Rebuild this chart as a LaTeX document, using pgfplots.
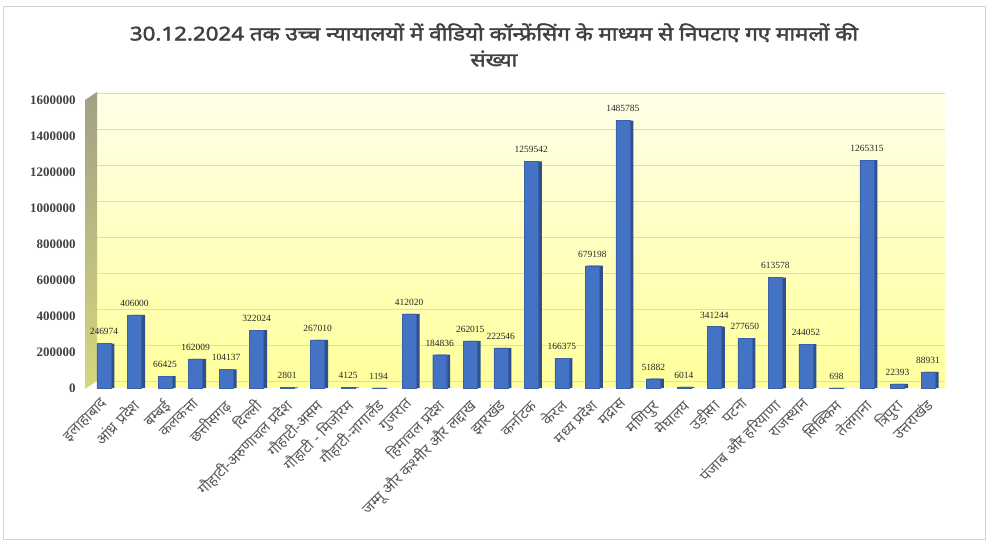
\documentclass[border=0pt]{standalone}
\usepackage{pgfplots}
\pgfplotsset{compat=1.18}
\usepackage{pgfplotstable}
\usepackage{fontspec}
\setmainfont{Liberation Serif}
\newfontfamily\dev[Script=Devanagari]{Noto Sans}
\newfontfamily\devtitle[Script=Devanagari, AutoFakeBold=2.2, FakeStretch=1.18]{Noto Sans}
\definecolor{barblue}{HTML}{4472C4}
\definecolor{barside}{HTML}{2F4F8F}
\definecolor{txtgray}{HTML}{595959}
\definecolor{titlegray}{HTML}{404040}
\pgfplotstableread{
x y
0 246974
1 406000
2 66425
3 162009
4 104137
5 322024
6 2801
7 267010
8 4125
9 1194
10 412020
11 184836
12 262015
13 222546
14 1259542
15 166375
16 679198
17 1485785
18 51882
19 6014
20 341244
21 277650
22 613578
23 244052
24 698
25 1265315
26 22393
27 88931
}\datatable
\begin{document}
\begin{tikzpicture}
\path[use as bounding box] (0bp,0bp) rectangle (989bp,545bp);
\draw[gray!35] (3bp,6bp) rectangle (985bp,539bp);
\node[font=\devtitle\bfseries\fontsize{19}{26}\selectfont, text=titlegray, align=center] at (494bp,500bp)
  {30.12.2024 तक उच्च न्यायालयों में वीडियो कॉन्फ्रेंसिंग के माध्यम से निपटाए गए मामलों की\\संख्या};
\shade[top color={rgb,255:red,255;green,255;blue,232}, bottom color={rgb,255:red,255;green,255;blue,155}]
  (97bp,157bp) rectangle (945bp,453bp);
\shade[top color={rgb,255:red,160;green,160;blue,135}, bottom color={rgb,255:red,215;green,215;blue,125}]
  (85bp,156bp) -- (85bp,445bp) -- (97bp,453bp) -- (97bp,164bp) -- cycle;
\begin{axis}[
  at={(97bp,157bp)}, anchor=south west,
  width=848bp, height=288bp, scale only axis,
  xmin=-0.229, xmax=27.556, ymin=0, ymax=1600000,
  ytick={0,200000,400000,600000,800000,1000000,1200000,1400000,1600000},
  scaled y ticks=false,
  /pgf/number format/fixed, /pgf/number format/1000 sep={},
  /pgf/number format/assume math mode=true,
  yticklabel style={font=\bfseries\fontsize{13}{14}\selectfont, text=titlegray, xshift=-18bp},
  xtick={0,...,27},
  xticklabels={इलाहाबाद,आंध्र प्रदेश,बम्बई,कलकत्ता,छत्तीसगढ़,दिल्ली,गौहाटी-अरुणाचल प्रदेश,गौहाटी-असम,गौहाटी - मिजोरम,गौहाटी-नागालैंड,गुजरात,हिमाचल प्रदेश,जम्मू और कश्मीर और लद्दाख,झारखंड,कर्नाटक,केरल,मध्य प्रदेश,मद्रास,मणिपुर,मेघालय,उड़ीसा,पटना,पंजाब और हरियाणा,राजस्थान,सिक्किम,तेलंगाना,त्रिपुरा,उत्तराखंड},
  xticklabel style={font=\dev\fontsize{15}{16}\selectfont, text=txtgray, xshift=-3bp, yshift=-8bp, rotate=45, anchor=north east, inner sep=1bp},
  major tick length=0pt,
  axis line style={draw=none},
  ymajorgrids, grid style={draw=gray!30, line width=0.9pt, yshift=7bp},
  ybar, bar width=14bp,
  clip=false,
]
\addplot[fill=barside, draw=none, bar shift=3.5bp] table[x=x,y=y] {\datatable};
\addplot[fill=barblue, draw=barblue!85!black, line width=0.3pt, bar shift=0bp,
  point meta=explicit symbolic,
  nodes near coords,
  every node near coord/.append style={font=\fontsize{9.5}{10}\selectfont, text=black!85, anchor=south, yshift=5bp}]
  table[x=x,y=y,meta=y] {\datatable};
\end{axis}
\end{tikzpicture}
\end{document}
